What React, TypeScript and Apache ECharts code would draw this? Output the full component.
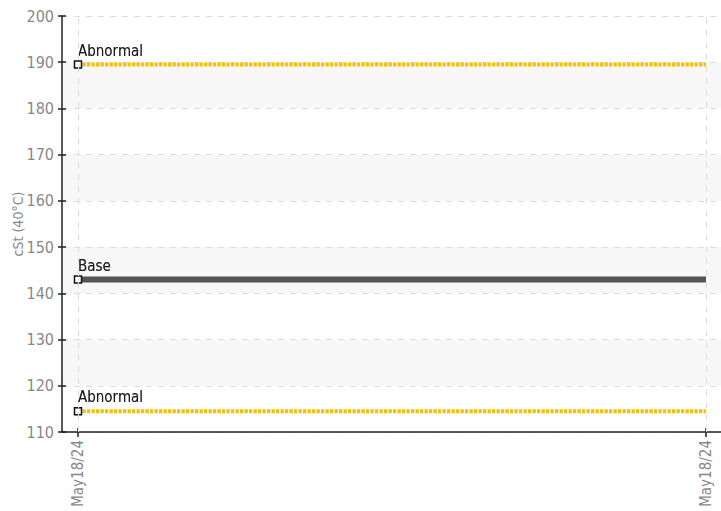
import React, { useEffect, useRef } from "react";
import * as echarts from "echarts";

const dates = ["May18/24", "May18/24"];
const xIdx = [0, 1];
const abnormalHigh = [189.5, 189.5];
const baseVals = [143, 143];
const abnormalLow = [114.5, 114.5];
const yTicks = { min: 110, max: 200, interval: 10 };

const FONT = "'Liberation Sans Narrow', 'DejaVu Sans Condensed', Roboto, sans-serif";

function makeSeries(name: string, label: string, vals: number[], color: string, width: number, type: any) {
  return {
    name,
    type: "line",
    data: xIdx.map((x, i) =>
      i === 0
        ? {
            value: [x, vals[i]],
            symbol: "rect",
            symbolSize: 7,
            label: {
              show: true,
              formatter: label,
              position: "top",
              align: "left",
              distance: 2,
              color: "#1a1a1a",
              fontSize: 15,
              fontFamily: FONT,
              textShadowColor: "rgba(0,0,0,0.45)",
              textShadowBlur: 1.5,
            },
          }
        : { value: [x, vals[i]], symbol: "none" }
    ),
    showAllSymbol: true,
    itemStyle: { color: "#fff", borderColor: "#111", borderWidth: 1.5 },
    lineStyle: { color, width, type },
    z: name === "Base" ? 4 : 3,
  };
}

export default function App() {
  const ref = useRef<HTMLDivElement>(null);
  useEffect(() => {
    document.body.style.margin = "0";
    const chart = echarts.init(ref.current!, null, { renderer: "svg" });
    const xMin = -16 / 628;
    const xMax = 1 + 15 / 628;
    chart.setOption({
      animation: false,
      grid: { left: 62, right: 0, top: 16, bottom: 79, outerBoundsMode: "none", containLabel: false },
      xAxis: [
        {
          type: "value",
          min: xMin,
          max: xMax,
          position: "bottom",
          axisLine: { show: true, onZero: false, lineStyle: { color: "#222", width: 1.5 } },
          axisTick: { show: true, customValues: xIdx, length: 5, lineStyle: { color: "#222", width: 1.5 } },
          axisLabel: {
            show: true,
            customValues: xIdx,
            rotate: 90,
            margin: 8,
            color: "#888",
            fontSize: 15,
            fontFamily: FONT,
            formatter: (v: number) => dates[Math.round(v)] ?? "",
          },
          splitLine: { show: false },
        },
        {
          type: "value",
          min: xMin,
          max: xMax,
          position: "bottom",
          axisLine: { show: false, onZero: false },
          axisTick: { show: true, inside: true, customValues: xIdx, length: 4, lineStyle: { color: "#222", width: 1.5 } },
          axisLabel: { show: false },
          splitLine: { show: false },
        },
      ],
      yAxis: [
        {
          type: "value",
          min: yTicks.min,
          max: yTicks.max,
          interval: yTicks.interval,
          position: "left",
          name: "cSt (40°C)",
          nameLocation: "middle",
          nameGap: 37,
          nameMoveOverlap: false,
          nameTextStyle: { color: "#888", fontSize: 14, fontFamily: FONT },
          axisLine: { show: true, onZero: false, lineStyle: { color: "#222", width: 1.5 } },
          axisTick: { show: true, length: 4, lineStyle: { color: "#222", width: 1.5 } },
          axisLabel: { color: "#888", fontSize: 16, margin: 8, fontFamily: FONT },
          splitLine: { show: true, lineStyle: { color: "#ddd", type: [6, 6], width: 1 } },
          splitArea: { show: true, areaStyle: { color: ["rgba(255,255,255,0)", "#f7f7f7"] } },
        },
        {
          type: "value",
          min: yTicks.min,
          max: yTicks.max,
          interval: yTicks.interval,
          position: "left",
          axisLine: { show: false, onZero: false },
          axisTick: { show: true, inside: true, length: 4, lineStyle: { color: "#222", width: 1.5 } },
          axisLabel: { show: false },
          splitLine: { show: false },
        },
      ],
      series: [
        {
          ...makeSeries("Abnormal High", "Abnormal", abnormalHigh, "#f5c000", 4, [3.3, 1.2]),
          markLine: {
            silent: true,
            symbol: "none",
            label: { show: false },
            lineStyle: { color: "#ddd", type: [6, 6], width: 1 },
            data: xIdx.map((x) => ({ xAxis: x })),
          },
        },
        makeSeries("Base", "Base", baseVals, "#555", 6, "solid"),
        makeSeries("Abnormal Low", "Abnormal", abnormalLow, "#f5c000", 4, [3.3, 1.2]),
      ],
    });
    return () => chart.dispose();
  }, []);
  return <div ref={ref} style={{ width: 721, height: 511 }} />;
}
